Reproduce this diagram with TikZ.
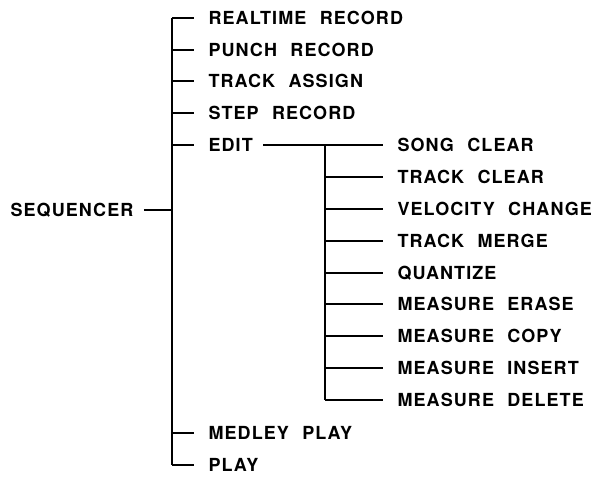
\documentclass[tikz,border=0pt]{standalone}
\usepackage{fontspec}
\newfontfamily\menufont{TeX Gyre Heros}[LetterSpace=6,WordSpace=2.2]
\tikzset{
  menuitem/.style={anchor=west, inner sep=0pt, text height=9.7pt, text depth=0pt,
    font=\menufont\bfseries\fontsize{13.5}{15}\selectfont},
  branch/.style={shorten >=10.5pt},
}
\begin{document}
\begin{tikzpicture}[x=0.75pt,y=-0.75pt,line width=0.8pt]
\useasboundingbox (0,0) rectangle (598,476);
% Root
\node[menuitem] (seq) at (10,210) {SEQUENCER};
\coordinate (seqend) at (172,210);
\draw[shorten <=7.5pt] (seq.east) -- (seqend);

% Main menu
\foreach \y/\name/\txt in {18/rt/REALTIME RECORD, 50/punch/PUNCH RECORD,
    81/assign/TRACK ASSIGN, 113/steprec/STEP RECORD, 145/edit/EDIT,
    433/medley/MEDLEY PLAY, 465/play/PLAY} {
  \node[menuitem] (\name) at (208,\y) {\txt};
  \coordinate (t\name) at (172,\y);
  \draw[branch] (t\name) -- (\name.west);
}
\draw (trt) -- (tplay);

% Edit submenu
\foreach \y/\name/\txt in {145/songclr/SONG CLEAR, 177/trkclr/TRACK CLEAR,
    209/velo/VELOCITY CHANGE, 241/merge/TRACK MERGE, 273/quant/QUANTIZE,
    304/merase/MEASURE ERASE, 336/mcopy/MEASURE COPY,
    368/minsert/MEASURE INSERT, 400/mdelete/MEASURE DELETE} {
  \node[menuitem] (\name) at (397,\y) {\txt};
  \coordinate (t\name) at (325,\y);
  \draw[branch] (t\name) -- (\name.west);
}
\draw[shorten <=7.5pt] (edit.east) -- (tsongclr);
\draw (tsongclr) -- (tmdelete);

\end{tikzpicture}
\end{document}
